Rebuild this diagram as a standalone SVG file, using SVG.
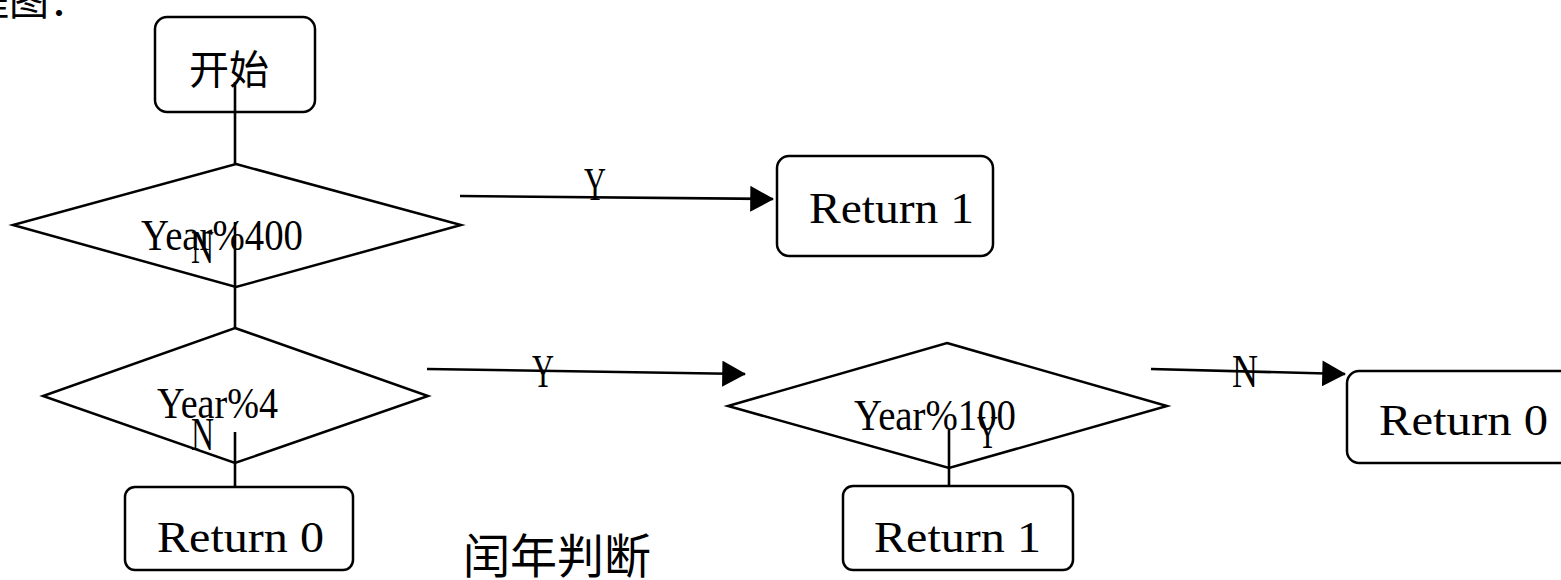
<svg xmlns="http://www.w3.org/2000/svg" width="1561" height="580" viewBox="0 0 1561 580">
<style>
.box{fill:#fff;stroke:#000;stroke-width:2.5}
.dia{fill:#fff;stroke:#000;stroke-width:2.5}
.ln{fill:none;stroke:#000;stroke-width:2.6}
.lat{font-family:"Liberation Serif","DejaVu Serif",serif;font-size:44px;fill:#000}
.lbl{font-family:"Liberation Serif","DejaVu Serif",serif;font-size:47px;fill:#000}
.cjk{font-family:"Noto Sans CJK SC","Noto Sans",sans-serif;fill:#000}
</style>
<defs>
<marker id="ah" markerUnits="userSpaceOnUse" markerWidth="24" markerHeight="26" viewBox="0 0 22 24" refX="21" refY="12" orient="auto">
<path d="M0,0 L22,12 L0,24 Z" fill="#000"/>
</marker>
</defs>
<rect width="1561" height="580" fill="#fff"/>
<text class="cjk" x="-31" y="15" font-size="40">程图：</text>
<g id="start">
<rect class="box" x="155" y="17" width="160" height="95" rx="12"/>
<text class="cjk" x="189" y="84" font-size="40">开始</text>
</g>
<g id="d400">
<polygon class="dia" points="236,164 461,225 236,287 13,225"/>
<text class="lat" x="141" y="250" textLength="162" lengthAdjust="spacingAndGlyphs">Year%400</text>
</g>
<g id="r1top">
<rect class="box" x="777" y="156" width="216" height="100" rx="12"/>
<text class="lat" x="809" y="223" textLength="165" lengthAdjust="spacingAndGlyphs">Return 1</text>
</g>
<g id="d4">
<polygon class="dia" points="235,328 428,396 235,463 43,396"/>
<text class="lat" x="157" y="418" textLength="121" lengthAdjust="spacingAndGlyphs">Year%4</text>
</g>
<g id="r0left">
<rect class="box" x="125" y="487" width="228" height="83" rx="10"/>
<text class="lat" x="157" y="552" textLength="167" lengthAdjust="spacingAndGlyphs">Return 0</text>
</g>
<g id="d100">
<polygon class="dia" points="947,343 1167,406 949,468 728,406"/>
<text class="lat" x="854" y="430" textLength="162" lengthAdjust="spacingAndGlyphs">Year%100</text>
</g>
<g id="r1bottom">
<rect class="box" x="843" y="486" width="230" height="84" rx="10"/>
<text class="lat" x="874" y="552" textLength="167" lengthAdjust="spacingAndGlyphs">Return 1</text>
</g>
<g id="r0right">
<rect class="box" x="1347" y="371" width="240" height="92" rx="12"/>
<text class="lat" x="1379" y="435" textLength="169" lengthAdjust="spacingAndGlyphs">Return 0</text>
</g>
<g id="connectors">
<line class="ln" x1="235" y1="82" x2="235" y2="164"/>
<line class="ln" x1="460" y1="196" x2="773" y2="199" marker-end="url(#ah)"/>
<line class="ln" x1="235" y1="222" x2="235" y2="328"/>
<line class="ln" x1="427" y1="369" x2="745" y2="374" marker-end="url(#ah)"/>
<line class="ln" x1="235" y1="432" x2="235" y2="487"/>
<line class="ln" x1="949" y1="430" x2="949" y2="487"/>
<line class="ln" x1="1151" y1="369" x2="1345" y2="374" marker-end="url(#ah)"/>
<text class="lbl" x="584" y="200" textLength="22" lengthAdjust="spacingAndGlyphs">Y</text>
<text class="lbl" x="191" y="263" textLength="23" lengthAdjust="spacingAndGlyphs">N</text>
<text class="lbl" x="532" y="387" textLength="22" lengthAdjust="spacingAndGlyphs">Y</text>
<text class="lbl" x="191" y="450" textLength="23" lengthAdjust="spacingAndGlyphs">N</text>
<text class="lbl" x="977" y="448" textLength="21" lengthAdjust="spacingAndGlyphs">Y</text>
<text class="lbl" x="1232" y="387" textLength="26" lengthAdjust="spacingAndGlyphs">N</text>
</g>
<text class="cjk" x="463" y="573" font-size="47">闰年判断</text>
</svg>
